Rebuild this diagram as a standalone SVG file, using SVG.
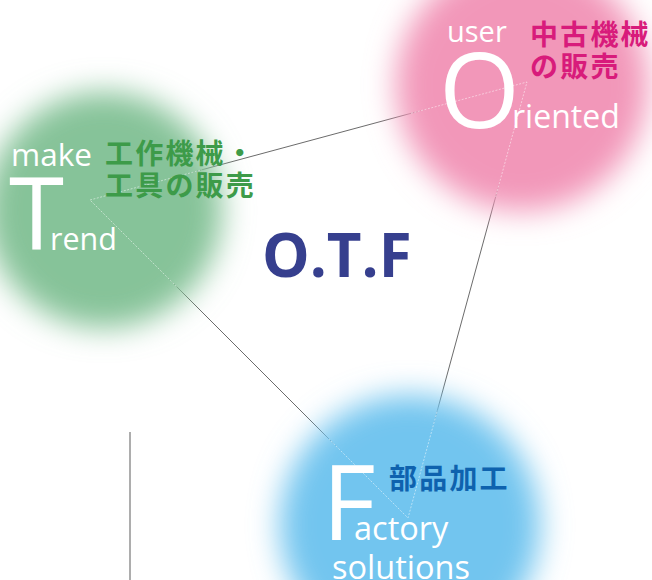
<svg xmlns="http://www.w3.org/2000/svg" width="652" height="580" viewBox="0 0 652 580">
<style>
.en{font-family:"Open Sans","Liberation Sans",sans-serif;font-weight:400;fill:#fff}
.jp{font-family:"Noto Sans CJK JP","Noto Sans CJK SC",sans-serif;font-weight:700;font-size:28px;letter-spacing:2.2px}
.ln{stroke:#5a5a5a;stroke-width:0.9;fill:none}
.lnl{stroke:#ffffff;stroke-opacity:0.55;stroke-width:0.9;stroke-dasharray:2 1.5;fill:none}
</style>
<defs>
<filter id="blur" x="-50%" y="-50%" width="200%" height="200%"><feGaussianBlur stdDeviation="15"/></filter>
<clipPath id="inside">
<circle cx="105" cy="210" r="105"/>
<circle cx="522" cy="85" r="115"/>
<circle cx="410" cy="525" r="118"/>
</clipPath>
</defs>
<rect width="652" height="580" fill="#fff"/>
<g id="connectors">
<polyline class="ln" points="90,200 527,82 408,518 90,200"/>
<line x1="130" y1="432" x2="130" y2="580" stroke="#8a8a8a" stroke-width="1.4"/>
</g>
<g id="circles">
<circle cx="104" cy="210" r="118" fill="#86c399" filter="url(#blur)"/>
<circle cx="522" cy="85" r="126" fill="#f297b9" filter="url(#blur)"/>
<circle cx="410" cy="525" r="130" fill="#72c5ef" filter="url(#blur)"/>
</g>
<g id="connectors-inner" clip-path="url(#inside)">
<polyline class="lnl" points="90,200 527,82 408,518 90,200"/>
</g>
<g id="node-trend">
<text class="en" x="11" y="166" font-size="31.5">make</text>
<text class="en" x="9" y="250" font-size="100">T</text>
<text class="en" x="50" y="250" font-size="30.5">rend</text>
<text class="jp" x="105" y="164" fill="#3d9b49">工作機械・</text>
<text class="jp" x="105" y="196" fill="#3d9b49">工具の販売</text>
</g>
<g id="node-oriented">
<text class="en" x="447" y="42" font-size="29">user</text>
<text class="en" x="439" y="128" font-size="104">O</text>
<text class="en" x="512" y="128" font-size="32">riented</text>
<text class="jp" x="530" y="45" fill="#d81b7b">中古機械</text>
<text class="jp" x="530" y="77" fill="#d81b7b">の販売</text>
</g>
<g id="node-factory">
<text class="en" x="322" y="540" font-size="104">F</text>
<text class="en" x="354" y="540" font-size="32.5">actory</text>
<text class="en" x="332" y="579" font-size="32.5">solutions</text>
<text class="jp" x="389" y="489" fill="#0e62ae">部品加工</text>
</g>
<g id="title">
<text x="262" y="277" font-family="Open Sans, Liberation Sans, sans-serif" font-weight="700" font-size="60" fill="#363f8e">O.T.F</text>
</g>
</svg>
